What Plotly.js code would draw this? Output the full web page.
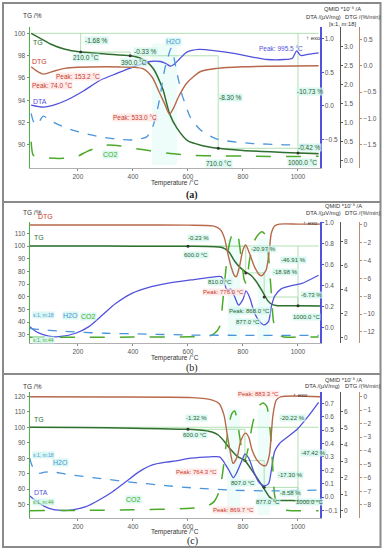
<!DOCTYPE html>
<html><head><meta charset="utf-8">
<script src="https://cdn.plot.ly/plotly-3.0.1.min.js"></script>
<style>html,body{margin:0;padding:0;background:#fff}#chart{width:384px;height:550px}</style>
</head><body><div id="chart"></div>
<script>
// ---------------- Panel (a) ----------------
const tA_TG  = [30, 60, 100, 150, 210, 300, 390, 430, 455, 475, 490, 510, 533, 560, 600, 650, 710, 800, 900, 1000, 1075];
const tgA    = [100, 99.6, 99.05, 98.6, 98.32, 98.15, 97.99, 97.75, 97.35, 96.8, 96.1, 94.9, 92.8, 91.5, 90.35, 89.95, 89.69, 89.5, 89.37, 89.27, 89.2];
const tA_DTG = [30, 50, 74, 117, 153, 200, 300, 400, 438, 470, 497, 515, 533, 548, 565, 596, 646, 706, 800, 900, 1075];
const dtgA   = [-0.02, -0.1, -0.16, -0.095, -0.05, -0.03, -0.02, -0.03, -0.06, -0.22, -0.52, -0.72, -0.92, -0.8, -0.6, -0.33, -0.11, -0.05, -0.02, -0.01, 0.0];
const tA_DTA = [30, 74, 120, 160, 220, 281, 340, 402, 462, 500, 520, 536, 550, 570, 596, 640, 700, 767, 830, 888, 950, 980, 995, 1010, 1040, 1075];
const dtaA   = [0.01, -0.02, 0.02, 0.085, 0.22, 0.38, 0.48, 0.58, 0.66, 0.66, 0.63, 0.59, 0.62, 0.7, 0.8, 0.84, 0.82, 0.78, 0.73, 0.69, 0.69, 0.71, 0.82, 0.75, 0.77, 0.79];
const tA_H2O = [30, 40, 52, 74, 100, 160, 220, 281, 340, 402, 450, 470, 486, 500, 510, 520, 528, 538, 545, 553, 565, 577, 592, 608, 646, 706, 828, 950, 1075];
const h2oA   = [1.24, 1.0, 0.95, 1.17, 1.05, 0.85, 0.72, 0.62, 0.56, 0.54, 0.62, 0.85, 1.24, 1.75, 2.21, 2.55, 2.74, 2.96, 2.85, 2.57, 2.15, 1.77, 1.45, 1.15, 0.8, 0.56, 0.45, 0.41, 0.4];
const tA_CO2 = [30, 37, 50, 74, 130, 190, 232, 260, 281, 305, 354, 402, 463, 548, 616, 700, 800, 900, 1000, 1075];
const co2A   = [0.49, 0.14, 0.09, 0.07, 0.05, 0.08, 0.23, 0.31, 0.36, 0.4, 0.38, 0.32, 0.25, 0.17, 0.13, 0.12, 0.11, 0.1, 0.1, 0.11];
const stepA_T  = [210, 390, 710, 1000];
const stepA_TG = [98.32, 97.99, 89.69, 89.27];

// ---------------- Panel (b) ----------------
const tB_TG  = [24, 200, 400, 600, 700, 720, 735, 750, 770, 790, 810, 830, 850, 870, 890, 905, 920, 950, 1000, 1080];
const tgB    = [100, 99.95, 99.85, 99.77, 99.5, 99.0, 97.8, 95, 88, 83, 79.5, 76.8, 71.5, 64.5, 57, 54, 53.2, 53.0, 52.86, 52.8];
const tB_DTG = [24, 200, 400, 600, 690, 708, 720, 733, 745, 757, 769, 776, 787, 800, 810, 824, 842, 860, 868, 884, 896, 903, 915, 933, 1000, 1080];
const dtgB   = [0.0, 0.0, 0.0, -0.02, -0.1, -0.3, -0.6, -1.5, -3.2, -4.7, -5.7, -5.8, -4.7, -2.8, -2.25, -3.2, -4.7, -5.6, -5.7, -5.06, -2.8, -0.93, -0.11, 0.1, 0.1, 0.1];
const tB_DTA = [25, 57, 94, 130, 192, 240, 289, 337, 398, 458, 519, 611, 680, 721, 730, 740, 748, 755, 769, 784, 800, 811, 824, 842, 860, 877, 893, 903, 915, 939, 976, 1012, 1075];
const dtaB   = [0.01, -0.05, -0.08, -0.086, -0.053, 0.01, 0.12, 0.23, 0.33, 0.385, 0.42, 0.455, 0.48, 0.486, 0.45, 0.37, 0.36, 0.37, 0.3, 0.216, 0.27, 0.35, 0.29, 0.14, 0.06, 0.026, 0.06, 0.2, 0.3, 0.37, 0.4, 0.42, 0.5];
const tB_H2O = [25, 60, 130, 200, 300, 450, 611, 800, 1000, 1075];
const h2oB   = [0.78, 0.68, 0.56, 0.47, 0.37, 0.3, 0.22, 0.2, 0.2, 0.2];
const tB_CO2 = [25, 200, 400, 611, 680, 697, 715, 727, 739, 751, 763, 775, 781, 793, 805, 812, 824, 842, 860, 868, 881, 893, 903, 912, 925, 945, 1000, 1075];
const co2B   = [0.03, 0.03, 0.05, 0.08, 0.15, 0.37, 0.92, 3.1, 5.9, 7.87, 8.7, 8.83, 8.6, 6.75, 4.8, 4.5, 6.5, 8.1, 8.7, 8.83, 8.6, 6.75, 3.7, 1.2, 0.37, 0.08, 0.05, 0.05];
const stepB_T  = [600, 810, 877, 1000];
const stepB_TG = [99.77, 78.8, 59.82, 52.86];

// ---------------- Panel (c) ----------------
const tC_TG  = [24, 200, 400, 600, 650, 690, 710, 733, 757, 781, 807, 830, 854, 877, 896, 915, 950, 1000, 1080];
const tgC    = [100, 99.8, 99.4, 98.68, 98.1, 96.8, 95.0, 90.7, 85.3, 81.0, 78.46, 72.8, 66.5, 60.2, 55.0, 52.9, 52.7, 52.58, 52.5];
const tC_DTG = [24, 300, 616, 689, 713, 731, 743, 755, 764, 779, 791, 809, 821, 833, 851, 870, 883, 896, 909, 921, 939, 1080];
const dtgC   = [0, -0.02, -0.07, -0.25, -0.5, -1.36, -2.84, -4.2, -4.94, -4.44, -3.33, -2.7, -3.0, -3.95, -4.7, -5.06, -5.1, -4.3, -1.36, -0.25, 0.0, 0.0];
const tC_DTA = [25, 60, 95, 140, 180, 229, 277, 326, 374, 423, 471, 520, 556, 611, 680, 715, 728, 737, 749, 765, 779, 797, 807, 821, 839, 857, 877, 893, 903, 915, 933, 963, 999, 1036, 1075];
const dtaC   = [0.0075, -0.047, -0.084, -0.1, -0.095, -0.072, -0.022, 0.04, 0.114, 0.19, 0.24, 0.26, 0.27, 0.29, 0.3, 0.3, 0.27, 0.24, 0.2, 0.144, 0.19, 0.276, 0.32, 0.29, 0.19, 0.114, 0.084, 0.1, 0.2, 0.34, 0.4, 0.45, 0.51, 0.6, 0.707];
const tC_H2O = [25, 35, 60, 78, 104, 160, 277, 398, 519, 611, 750, 900, 1075];
const h2oC   = [3.18, 2.67, 2.27, 2.33, 2.36, 2.2, 1.96, 1.72, 1.52, 1.39, 1.25, 1.2, 1.25];
const tC_CO2 = [25, 200, 400, 611, 664, 695, 713, 725, 737, 749, 760, 770, 781, 793, 805, 819, 834, 852, 872, 886, 898, 907, 915, 927, 949, 1075];
const co2C   = [0.0, 0.02, 0.05, 0.15, 0.24, 0.55, 1.15, 2.16, 3.78, 5.2, 5.9, 6.04, 5.2, 3.98, 3.0, 3.78, 5.2, 6.22, 6.53, 6.33, 5.0, 2.97, 0.95, 0.24, 0.05, 0.0];
const stepC_T  = [600, 807, 877, 1000];
const stepC_TG = [98.68, 78.46, 61.16, 52.58];

const xTicks = [200, 400, 600, 800, 1000];

// ---------------- styling / layout ----------------
const W = 384, H = 550;
const X0 = 29.5 / W, X1 = 320 / W;
const posQ = 339.7 / W, posD = 359.3 / W;
const C = {tg:'#2f6f2f', dtg:'#b8684a', dta:'#5252dc', h2o:'#4a94dc', co2:'#4aaa2a', step:'#9fd89f', lab:'#2f5f2f', red:'#c83a2a'};
const FF = 'Liberation Sans, Arial, sans-serif';

const panels = [
  {top:27, bot:167.7, tg:[87.95,100.57], tgT:[90,92,94,96,98,100],
   dta:[-0.925,1.175], dtaT:[-0.5,0,0.5,1.0], q:[-0.196,3.527], qT:[0,0.5,1,1.5,2,2.5,3], qF:'.1f',
   dtg:[-1.939,0.736], dtgT:[-1.5,-1,-0.5,0,0.5], hl:[[470,560]],
   data:{tgT:tA_TG,tg:tgA,dtgT:tA_DTG,dtg:dtgA,dtaT:tA_DTA,dta:dtaA,h2oT:tA_H2O,h2o:h2oA,co2T:tA_CO2,co2:co2A,sT:stepA_T,sG:stepA_TG}},
  {top:221.7, bot:342.7, tg:[23.86,119.13], tgT:[30,40,50,60,70,80,90,100,110],
   dta:[-0.143,1.01], dtaT:[0,0.2,0.4,0.6,0.8,1.0], q:[-0.417,9.667], qT:[0,2,4,6,8], qF:'',
   dtg:[-13.22,0.37], dtgT:[-12,-10,-8,-6,-4,-2,0], hl:[[745,790],[853,898]],
   data:{tgT:tB_TG,tg:tgB,dtgT:tB_DTG,dtg:dtgB,dtaT:tB_DTA,dta:dtaB,h2oT:tB_H2O,h2o:h2oB,co2T:tB_CO2,co2:co2B,sT:stepB_T,sG:stepB_TG}},
  {top:392, bot:517.7, tg:[41.56,122.8], tgT:[50,60,70,80,90,100,110,120],
   dta:[-0.154,0.784], dtaT:[-0.1,0,0.1,0.2,0.3,0.4,0.5,0.6,0.7], q:[-0.424,7.19], qT:[0,1,2,3,4,5,6], qF:'',
   dtg:[-8.96,0.348], dtgT:[-8,-7,-6,-5,-4,-3,-2,-1,0], hl:[[742,790],[853,898]],
   data:{tgT:tC_TG,tg:tgC,dtgT:tC_DTG,dtg:dtgC,dtaT:tC_DTA,dta:dtaC,h2oT:tC_H2O,h2o:h2oC,co2T:tC_CO2,co2:co2C,sT:stepC_T,sG:stepC_TG}}
];

const tickFont = {family:FF, size:6.5, color:'#555'};
const layout = {width:W, height:H, margin:{l:0,r:0,t:0,b:0}, paper_bgcolor:'#fff', plot_bgcolor:'rgba(0,0,0,0)',
  showlegend:false, font:{family:FF, size:7, color:'#444'}, annotations:[], shapes:[]};
const traces = [];
function yid(n){return n===1?'y':'y'+n;}
function ykey(n){return n===1?'yaxis':'yaxis'+n;}
function ln(x,y,xa,ya,color,width,dash,spline){
  return {type:'scatter',mode:'lines',x:x,y:y,xaxis:xa,yaxis:ya,hoverinfo:'skip',
    line:{color:color,width:width,dash:dash||'solid',shape:spline?'spline':'linear',smoothing:0.7}};
}
const baseAx = {showgrid:false, zeroline:false, showline:true, ticks:'outside', ticklen:2, tickwidth:1, tickfont:tickFont, fixedrange:true};

panels.forEach((p,i)=>{
  const xa = i===0?'x':'x'+(i+1);
  const xk = i===0?'xaxis':'xaxis'+(i+1);
  const n = 4*i+1;
  const dom = [1-p.bot/H, 1-p.top/H];
  layout[xk] = Object.assign({}, baseAx, {domain:[X0,X1], range:[24,1080], anchor:yid(n), tickvals:xTicks, linecolor:'#b0b0b0', tickcolor:'#888'});
  layout[ykey(n)] = Object.assign({}, baseAx, {domain:dom, range:p.tg, anchor:xa, side:'left', tickvals:p.tgT, linecolor:'#4cb04c', tickcolor:'#888'});
  layout[ykey(n+1)] = Object.assign({}, baseAx, {domain:dom, range:p.dta, anchor:xa, overlaying:yid(n), side:'right', tickvals:p.dtaT, tickformat:'.1f', linecolor:C.dta, linewidth:1.5, tickcolor:C.dta});
  layout[ykey(n+2)] = Object.assign({}, baseAx, {domain:dom, range:p.q, anchor:'free', position:posQ, overlaying:yid(n), side:'right', tickvals:p.qT, tickformat:p.qF, linecolor:'#555', tickcolor:'#555'});
  layout[ykey(n+3)] = Object.assign({}, baseAx, {domain:dom, range:p.dtg, anchor:'free', position:posD, overlaying:yid(n), side:'right', tickvals:p.dtgT, tickformat:i===0?'.1f':'', linecolor:'#b89070', tickcolor:'#b89070'});

  // faint highlight bands behind the gas-release peaks
  p.hl.forEach(b=>layout.shapes.push({type:'rect', xref:xa, yref:'paper', x0:b[0], x1:b[1], y0:dom[0]+0.005, y1:dom[1]-0.03, layer:'below', line:{width:0}, fillcolor:'rgba(200,246,238,0.3)'}));

  const d = p.data;
  const t0 = d.tgT[0];
  traces.push(ln([t0, 1075], [100, 100], xa, yid(n), C.step, 0.8));
  let prev = 100;
  d.sT.forEach((t,k)=>{
    traces.push(ln([t,t],[prev,d.sG[k]],xa,yid(n),C.step,0.8));
    const tNext = k<d.sT.length-1 ? d.sT[k+1] : 1075;
    traces.push(ln([t,tNext],[d.sG[k],d.sG[k]],xa,yid(n),C.step,0.8));
    prev = d.sG[k];
  });
  traces.push(ln([d.sT[d.sT.length-1], d.sT[d.sT.length-1]],[100, d.sG[d.sG.length-1]],xa,yid(n),C.step,0.8));

  traces.push(ln(d.co2T, d.co2, xa, yid(n+2), C.co2, 1.5, 'longdash', true));
  traces.push(ln(d.h2oT, d.h2o, xa, yid(n+2), C.h2o, 1.3, 'dash', true));
  traces.push(ln(d.dtgT, d.dtg, xa, yid(n+3), C.dtg, 1.4, 'solid', true));
  traces.push(ln(d.dtaT, d.dta, xa, yid(n+1), C.dta, 1.3, 'solid', true));
  traces.push(ln(d.tgT, d.tg, xa, yid(n), C.tg, 1.5, 'solid', true));
  traces.push({type:'scatter',mode:'markers',x:d.sT,y:d.sG,xaxis:xa,yaxis:yid(n),hoverinfo:'skip',marker:{size:3,color:'#333'}});
});

// ---------------- text labels ----------------
const BGC = 'rgba(205,245,238,0.75)', BGP = 'rgba(255,225,225,0.7)';
function lab(text, x, y, color, size, bg, anchor){
  layout.annotations.push({text:text, xref:'paper', yref:'paper', x:x/W, y:1-y/H, xanchor:anchor||'left', yanchor:'middle',
    showarrow:false, font:{size:size||6.5, color:color||'#333', family:FF}, bgcolor:bg||'rgba(0,0,0,0)', borderpad:0});
}
const labels = [
  // panel a
  ['TG /%',22,16,'#333',6.5],['TG',32,43,C.tg,7],['DTG',31,61,C.red,7],['Peak: 74.0 °C',31,85,C.red,6.5,BGP],['Peak: 153.2 °C',55,76,C.red,6.5,BGP],
  ['-1.68 %',84,40,C.lab,6.5,BGC],['210.0 °C',72,57,C.lab,6.5,BGC],['-0.33 %',133,52,C.lab,6.5,BGC],['390.0 °C',120,62,C.lab,6.5,BGC],
  ['H2O',165,41,C.h2o,7,BGC],['Peak: 995.5 °C',258,48,C.dta,6.5],['↑ exo',305,38,'#333',6],['DTA',32,102,C.dta,7],
  ['-8.30 %',218,97,C.lab,6.5,BGC],['-10.73 %',296,91,C.lab,6.5,BGC],['Peak: 533.0 °C',112,117,C.red,6.5,BGP],['CO2',102,155,C.co2,7,BGC],
  ['-0.42 %',297,148,C.lab,6.5,BGC],['710.0 °C',205,163,C.lab,6.5,BGC],['1000.0 °C',287,162,C.lab,6.5,BGC],
  ['QMID *10⁻⁹ /A',323,9,'#333',5.8],['DTA /(µV/mg)',305,17,'#333',5.8],['DTG /(%/min)',344,17,'#333',5.8],['[s:1, m:18]',328,24,'#333',5.8],
  // panel b
  ['TG /%',22,213,'#333',6.5],['DTG',37,216,C.red,7],['TG',33,237,C.tg,7],['-0.23 %',187,238,C.lab,6,BGC],['600.0 °C',183,255,C.lab,6,BGC],
  ['-20.97 %',250,249,C.lab,6,BGC],['-46.91 %',280,260,C.lab,6,BGC],['-18.98 %',272,272,C.lab,6,BGC],['810.0 °C',207,282,C.lab,6,BGC],
  ['Peak: 776.0 °C',202,292,C.red,6,BGP],['-6.73 %',300,295,C.lab,6,BGC],['Peak: 868.0 °C',228,311,C.lab,6,BGC],['877.0 °C',235,322,C.lab,6,BGC],
  ['1000.0 °C',292,317,C.lab,6,BGC],['↑ exo',302,223,'#333',6],['H2O',62,315,C.h2o,7,BGC],['CO2',80,316,C.co2,7,BGC],
  ['s:1, m:18',32,315,C.h2o,5,BGC],['s:1, m:44',32,340,C.co2,5,BGC],
  ['QMID *10⁻⁹ /A',324,206,'#333',5.8],['DTA /(µV/mg)',305,213,'#333',5.8],['DTG /(%/min)',344,213,'#333',5.8],
  // panel c
  ['TG /%',22,386,'#333',6.5],['TG',33,419,C.tg,7],['-1.32 %',185,418,C.lab,6,BGC],['600.0 °C',182,435,C.lab,6,BGC],['-20.22 %',279,418,C.lab,6,BGC],
  ['Peak: 883.3 °C',237,394,C.red,6,BGP],['↑ exo',292,395,'#333',6],['-47.42 %',300,453,C.lab,6,BGC],['Peak: 764.3 °C',175,472,C.red,6,BGP],
  ['-17.30 %',277,475,C.lab,6,BGC],['807.0 °C',230,483,C.lab,6,BGC],['-8.58 %',279,493,C.lab,6,BGC],['877.0 °C',255,502,C.lab,6,BGC],
  ['1000.0 °C',295,502,C.lab,6,BGC],['Peak: 869.7 °C',212,510,C.red,6,BGP],['H2O',52,462,C.h2o,7,BGC],['DTA',33,492,C.dta,7],['CO2',125,499,C.co2,7,BGC],
  ['s:1, m:18',32,455,C.h2o,5,BGC],['s:1, m:44',32,502,C.co2,5,BGC],
  ['QMID *10⁻⁹ /A',324,380,'#333',5.8],['DTA /(µV/mg)',304,386,'#333',5.8],['DTG /(%/min)',344,386,'#333',5.8]
];
labels.forEach(l=>lab(l[0],l[1],l[2],l[3],l[4],l[5]));
// axis titles and panel captions
[[183,195,'(a)',true],[358,368,'(b)',false],[532,541,'(c)',false]].forEach(a=>{
  lab('Temperature /°C',175,a[0],'#333',6.5,null,'center');
  layout.annotations.push({text:a[3]?'<b>'+a[2]+'</b>':a[2], xref:'paper', yref:'paper', x:192/W, y:1-a[1]/H, xanchor:'center', yanchor:'middle', showarrow:false,
    font:{family:'Liberation Serif, Times New Roman, serif', size:10, color:'#222'}});
});

// frame
const fc = '#8a8a8a';
layout.shapes.push({type:'rect', xref:'paper', yref:'paper', x0:3/W, x1:380.5/W, y0:1-547/H, y1:1-3/H, line:{color:fc,width:2}});
[202,374].forEach(y=>layout.shapes.push({type:'line', xref:'paper', yref:'paper', x0:3/W, x1:380.5/W, y0:1-y/H, y1:1-y/H, line:{color:fc,width:2}}));

Plotly.newPlot('chart', traces, layout, {staticPlot:true, displayModeBar:false});
</script></body></html>
